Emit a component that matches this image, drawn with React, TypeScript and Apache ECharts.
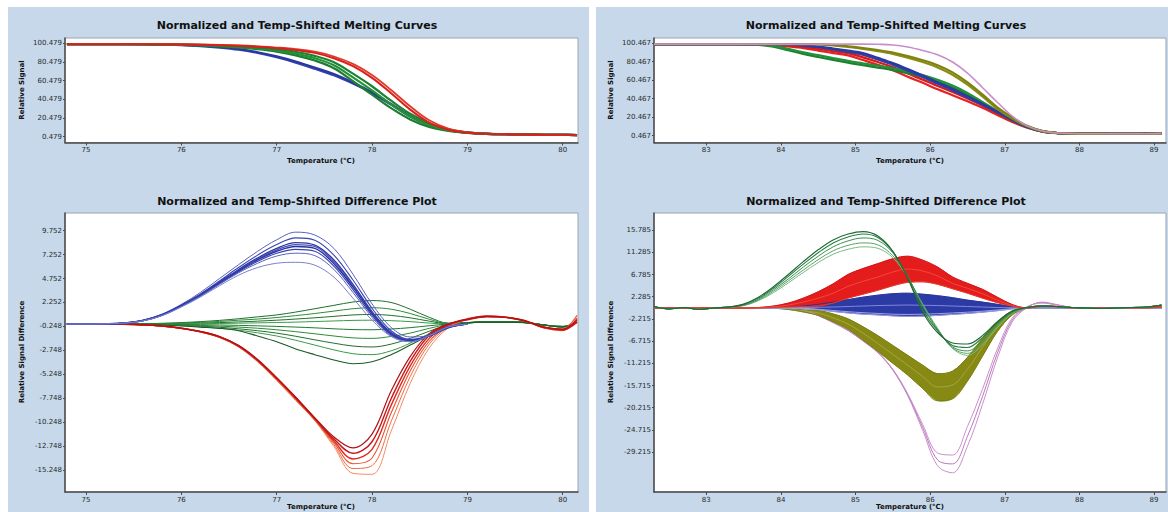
import React, { useEffect, useRef } from "react";
import * as echarts from "echarts";

// ---------- axes / ticks ----------
const leftXTicks = [75, 76, 77, 78, 79, 80];
const rightXTicks = [83, 84, 85, 86, 87, 88, 89];
const tlYTicks = [0.479, 20.479, 40.479, 60.479, 80.479, 100.479];
const trYTicks = [0.467, 20.467, 40.467, 60.467, 80.467, 100.467];
const blYTicks = [-15.248, -12.748, -10.248, -7.748, -5.248, -2.748, -0.248, 2.252, 4.752, 7.252, 9.752];
const brYTicks = [-29.215, -24.715, -20.215, -15.715, -11.215, -6.715, -2.215, 2.285, 6.785, 11.285, 15.785];

// ---------- temperatures ----------
const leftTemps = [74.8, 75.0, 75.2, 75.4, 75.6, 75.8, 76.0, 76.2, 76.4, 76.6, 76.8, 77.0, 77.2, 77.4, 77.6, 77.8, 78.0, 78.2, 78.4, 78.6, 78.8, 79.0, 79.2, 79.4, 79.6, 79.8, 80.0, 80.15];
const rightTemps = [82.3, 82.5, 82.7, 82.9, 83.1, 83.3, 83.5, 83.7, 83.9, 84.1, 84.3, 84.5, 84.7, 84.9, 85.1, 85.3, 85.5, 85.7, 85.9, 86.1, 86.3, 86.5, 86.7, 86.9, 87.1, 87.3, 87.5, 87.7, 87.9, 88.1, 88.3, 88.5, 88.7, 88.9, 89.1];

// ---------- top-left melting curves ----------
const tlRed1 = [99.5, 99.5, 99.5, 99.5, 99.4, 99.3, 99.1, 98.8, 98.4, 97.7, 96.7, 95.2, 93.3, 90.2, 84.5, 76.0, 63.5, 47.0, 29.5, 15.5, 8.0, 4.8, 3.6, 3.1, 2.8, 2.6, 2.5, 2.2];
const tlRed2 = [99.5, 99.5, 99.5, 99.5, 99.5, 99.4, 99.3, 99.0, 98.7, 98.1, 97.2, 95.9, 94.2, 91.4, 86.3, 78.4, 66.5, 50.5, 33.0, 18.0, 9.2, 5.2, 3.7, 3.1, 2.8, 2.6, 2.5, 2.3];
const tlGreen1 = [99.5, 99.5, 99.5, 99.5, 99.5, 99.3, 99.1, 98.7, 98.1, 97.2, 95.9, 94.1, 91.2, 87.0, 80.2, 68.0, 54.5, 39.0, 25.0, 15.0, 8.3, 5.0, 3.7, 3.1, 2.8, 2.6, 2.5, 2.3];
const tlGreen2 = [99.5, 99.5, 99.5, 99.5, 99.4, 99.2, 98.9, 98.4, 97.6, 96.5, 95.0, 92.8, 89.3, 84.5, 77.0, 64.0, 50.0, 35.0, 22.0, 13.0, 7.5, 4.8, 3.6, 3.1, 2.8, 2.6, 2.5, 2.2];
const tlGreen3 = [99.5, 99.5, 99.5, 99.5, 99.4, 99.1, 98.7, 98.1, 97.1, 95.8, 94.1, 91.5, 87.5, 82.0, 73.8, 60.0, 45.5, 31.0, 19.0, 11.0, 6.8, 4.6, 3.6, 3.1, 2.8, 2.6, 2.5, 2.2];
const tlBlue1 = [99.5, 99.5, 99.5, 99.5, 99.4, 99.1, 98.8, 97.9, 96.5, 94.3, 90.9, 86.5, 81.0, 74.5, 67.5, 58.5, 48.0, 35.5, 22.5, 13.0, 7.5, 4.8, 3.6, 3.1, 2.8, 2.6, 2.5, 2.2];
const tlBlue2 = [99.5, 99.5, 99.5, 99.5, 99.3, 99.0, 98.5, 97.5, 95.9, 93.6, 90.1, 85.5, 79.8, 73.2, 66.2, 57.3, 47.0, 34.8, 22.0, 12.8, 7.4, 4.8, 3.6, 3.1, 2.8, 2.6, 2.5, 2.2];

// ---------- bottom-left difference curves ----------
const blB1 = [0, 0, 0.02, 0.12, 0.42, 1.05, 2.05, 3.3, 4.75, 6.2, 7.6, 8.8, 9.6, 9.3, 7.9, 5.2, 2.1, -0.35, -1.35, -1.2, -0.4, 0.0];
const blB2 = [0, 0, 0.02, 0.11, 0.4, 1.0, 1.98, 3.15, 4.5, 5.9, 7.2, 8.3, 9.0, 8.75, 7.2, 4.6, 1.65, -0.7, -1.6, -1.25, -0.4, 0.0];
const blB3 = [0, 0, 0.02, 0.1, 0.38, 0.97, 1.93, 3.05, 4.38, 5.7, 6.9, 7.9, 8.5, 8.25, 6.7, 4.15, 1.3, -0.9, -1.7, -1.25, -0.35, 0.0];
const blB4 = [0, 0, 0.02, 0.1, 0.36, 0.95, 1.9, 3.0, 4.3, 5.55, 6.7, 7.6, 8.1, 7.9, 6.3, 3.85, 1.1, -1.05, -1.75, -1.2, -0.3, 0.0];
const blB5 = [0, 0, 0.02, 0.1, 0.35, 0.93, 1.86, 2.95, 4.22, 5.45, 6.55, 7.4, 7.8, 7.6, 6.05, 3.6, 0.9, -1.15, -1.8, -1.2, -0.3, 0.0];
const blB6 = [0, 0, 0.02, 0.09, 0.34, 0.9, 1.82, 2.9, 4.15, 5.35, 6.35, 7.1, 7.4, 7.15, 5.7, 3.3, 0.7, -1.25, -1.85, -1.25, -0.3, 0.0];
const blB7 = [0, 0, 0.02, 0.09, 0.33, 0.88, 1.78, 2.82, 4.0, 5.1, 5.9, 6.35, 6.45, 6.15, 4.9, 2.7, 0.4, -1.3, -1.85, -1.2, -0.3, 0.0];
const blB8 = [0, 0, 0.02, 0.1, 0.37, 0.96, 1.92, 3.02, 4.34, 5.62, 6.8, 7.75, 8.3, 8.1, 6.5, 4.0, 1.2, -1.0, -1.72, -1.22, -0.32, 0.0];

const blG1 = [0, 0, 0, 0, 0.02, 0.08, 0.15, 0.25, 0.38, 0.55, 0.75, 0.95, 1.25, 1.6, 1.95, 2.3, 2.45, 2.25, 1.55, 0.7, 0.1, 0.15, 0.25, 0.25, 0.2, -0.1, -0.3, 0.2];
const blG2 = [0, 0, 0, 0, 0.01, 0.05, 0.1, 0.18, 0.27, 0.4, 0.52, 0.68, 0.88, 1.1, 1.35, 1.6, 1.7, 1.55, 1.1, 0.5, 0.05, 0.15, 0.25, 0.25, 0.2, -0.1, -0.3, 0.2];
const blG3 = [0, 0, 0, 0, 0.01, 0.03, 0.06, 0.1, 0.15, 0.22, 0.3, 0.4, 0.52, 0.65, 0.8, 0.95, 1.0, 0.9, 0.65, 0.3, 0.02, 0.15, 0.22, 0.22, 0.18, -0.1, -0.3, 0.2];
const blG4 = [0, 0, 0, 0, 0, 0.01, 0.02, 0.04, 0.06, 0.09, 0.12, 0.16, 0.2, 0.26, 0.32, 0.38, 0.4, 0.35, 0.25, 0.1, 0, 0.12, 0.2, 0.2, 0.15, -0.1, -0.25, 0.15];
const blG5 = [0, 0, 0, 0, 0, -0.02, -0.04, -0.07, -0.1, -0.14, -0.19, -0.25, -0.32, -0.4, -0.5, -0.58, -0.6, -0.52, -0.38, -0.18, 0, 0.12, 0.2, 0.2, 0.15, -0.1, -0.25, 0.15];
const blG6 = [0, 0, 0, 0, -0.01, -0.04, -0.08, -0.14, -0.22, -0.32, -0.44, -0.6, -0.8, -1.02, -1.25, -1.45, -1.5, -1.3, -0.95, -0.45, -0.05, 0.12, 0.2, 0.2, 0.15, -0.1, -0.25, 0.2];
const blG7 = [0, 0, 0, 0, -0.02, -0.06, -0.13, -0.22, -0.34, -0.5, -0.7, -0.95, -1.28, -1.65, -2.0, -2.3, -2.4, -2.1, -1.5, -0.75, -0.1, 0.12, 0.2, 0.2, 0.15, -0.1, -0.3, 0.2];
const blG8 = [0, 0, 0, 0, -0.02, -0.08, -0.16, -0.28, -0.44, -0.65, -0.92, -1.25, -1.7, -2.2, -2.7, -3.1, -3.2, -2.8, -2.0, -1.0, -0.15, 0.12, 0.2, 0.2, 0.15, -0.1, -0.3, 0.2];
const blG9 = [0, 0, 0, 0, -0.03, -0.1, -0.2, -0.32, -0.45, -0.7, -1.25, -1.85, -2.6, -3.2, -3.75, -4.15, -3.95, -3.2, -2.2, -1.2, -0.3, 0.12, 0.2, 0.2, 0.15, -0.1, -0.3, 0.2];

const blR1 = [0, 0, 0, -0.02, -0.08, -0.2, -0.42, -0.77, -1.3, -2.22, -3.7, -5.6, -7.65, -9.8, -11.8, -12.95, -11.5, -7.0, -3.4, -1.0, 0.0, 0.5, 0.8, 0.7, 0.35, -0.3, -0.55, 0.4];
const blR2 = [0, 0, 0, -0.02, -0.08, -0.21, -0.44, -0.79, -1.33, -2.27, -3.75, -5.65, -7.7, -9.85, -12.0, -13.5, -12.3, -7.8, -3.9, -1.2, -0.05, 0.45, 0.75, 0.7, 0.3, -0.35, -0.6, 0.2];
const blR3 = [0, 0, 0, -0.02, -0.08, -0.22, -0.45, -0.8, -1.35, -2.3, -3.8, -5.7, -7.75, -9.9, -12.2, -14.1, -13.1, -8.5, -4.4, -1.5, -0.1, 0.55, 0.85, 0.72, 0.38, -0.4, -0.65, 0.6];
const blR4 = [0, 0, 0, -0.02, -0.09, -0.23, -0.46, -0.82, -1.38, -2.34, -3.86, -5.78, -7.85, -10.0, -12.4, -14.6, -14.0, -9.3, -4.9, -1.8, -0.2, 0.5, 0.8, 0.68, 0.32, -0.35, -0.5, 0.9];
const blR5 = [0, 0, 0, -0.02, -0.09, -0.23, -0.47, -0.83, -1.4, -2.37, -3.9, -5.83, -7.92, -10.05, -12.6, -15.1, -14.8, -10.2, -5.5, -2.1, -0.3, 0.45, 0.78, 0.7, 0.36, -0.3, -0.6, 0.3];
const blR6 = [0, 0, 0, -0.02, -0.1, -0.24, -0.48, -0.85, -1.42, -2.4, -3.95, -5.9, -8.0, -10.1, -12.8, -15.6, -15.7, -11.2, -6.2, -2.5, -0.4, 0.5, 0.82, 0.74, 0.34, -0.38, -0.7, 0.5];

// ---------- top-right melting curves ----------
const trPink = [99.4, 99.4, 99.4, 99.4, 99.4, 99.4, 99.4, 99.4, 99.4, 99.4, 99.4, 99.4, 99.4, 99.4, 99.4, 99.2, 98.5, 96.3, 92.5, 87.8, 80.0, 68.0, 52.5, 36.5, 21.5, 11.0, 5.5, 3.3, 2.7, 2.5, 2.5, 2.4, 2.4, 2.5, 2.6];
const trOlive1 = [99.3, 99.3, 99.3, 99.3, 99.3, 99.3, 99.3, 99.3, 99.3, 99.3, 99.3, 99.3, 98.5, 97.0, 95.2, 93.0, 90.3, 86.5, 82.0, 76.5, 68.8, 58.0, 45.0, 31.0, 20.0, 11.0, 5.5, 3.3, 2.7, 2.5, 2.5, 2.4, 2.4, 2.5, 2.8];
const trOlive2 = [99.3, 99.3, 99.3, 99.3, 99.3, 99.3, 99.3, 99.3, 99.3, 99.3, 99.3, 99.0, 98.0, 96.3, 94.3, 91.8, 88.8, 84.8, 80.0, 74.2, 66.3, 55.5, 42.8, 29.5, 19.0, 10.5, 5.3, 3.3, 2.7, 2.5, 2.5, 2.4, 2.4, 2.5, 2.8];
const trGreen1 = [99.3, 99.3, 99.3, 99.3, 99.3, 99.3, 99.2, 99.0, 97.5, 94.2, 90.5, 87.4, 84.3, 81.3, 78.6, 76.0, 73.3, 70.0, 66.0, 60.8, 54.5, 46.5, 36.8, 27.0, 17.5, 9.8, 5.0, 3.2, 2.7, 2.5, 2.5, 2.4, 2.4, 2.5, 2.8];
const trGreen2 = [99.3, 99.3, 99.3, 99.3, 99.3, 99.3, 99.1, 98.6, 96.6, 92.8, 88.8, 85.5, 82.3, 79.3, 76.6, 74.0, 71.3, 68.0, 64.0, 58.8, 52.5, 44.8, 35.5, 26.0, 17.0, 9.5, 5.0, 3.2, 2.7, 2.5, 2.5, 2.4, 2.4, 2.5, 2.8];
const trBlue1 = [99.3, 99.3, 99.3, 99.3, 99.3, 99.3, 99.3, 99.3, 99.3, 99.2, 98.3, 96.8, 94.6, 92.3, 89.8, 84.5, 79.0, 72.5, 65.5, 58.0, 50.8, 43.0, 35.0, 26.5, 17.8, 10.0, 5.2, 3.3, 2.7, 2.5, 2.5, 2.4, 2.4, 2.5, 2.7];
const trBlue2 = [99.3, 99.3, 99.3, 99.3, 99.3, 99.3, 99.3, 99.3, 99.3, 99.0, 97.8, 96.0, 93.6, 91.0, 88.2, 82.8, 77.2, 70.7, 63.8, 56.4, 49.3, 41.6, 33.8, 25.6, 17.2, 9.7, 5.1, 3.3, 2.7, 2.5, 2.5, 2.4, 2.4, 2.5, 2.7];
const trRed1 = [99.3, 99.3, 99.3, 99.3, 99.3, 99.3, 99.3, 99.3, 99.3, 98.5, 97.6, 95.8, 93.8, 91.8, 87.8, 83.0, 77.8, 71.0, 64.5, 57.5, 50.8, 43.5, 35.5, 26.5, 17.6, 10.2, 5.3, 3.3, 2.7, 2.5, 2.5, 2.4, 2.4, 2.5, 2.7];
const trRed2 = [99.3, 99.3, 99.3, 99.3, 99.3, 99.3, 99.3, 99.3, 98.8, 97.8, 96.5, 94.2, 91.8, 89.6, 85.0, 80.0, 74.5, 67.5, 61.0, 54.0, 47.5, 40.5, 33.0, 24.5, 16.3, 9.5, 5.0, 3.2, 2.7, 2.5, 2.5, 2.4, 2.4, 2.5, 2.7];
const trRed3 = [99.3, 99.3, 99.3, 99.3, 99.3, 99.3, 99.3, 99.3, 98.3, 96.8, 95.0, 92.4, 89.6, 87.2, 82.2, 77.0, 71.2, 64.0, 57.5, 50.5, 44.2, 37.5, 30.5, 22.8, 15.2, 9.0, 4.8, 3.1, 2.7, 2.5, 2.5, 2.4, 2.4, 2.5, 2.7];

// ---------- bottom-right difference curves ----------
const brGreen1 = [0.3, -0.2, 0.1, -0.3, 0.0, 0.2, 0.8, 2.2, 4.3, 6.8, 9.4, 11.8, 13.8, 15.0, 15.5, 14.6, 11.5, 6.0, -0.8, -5.0, -7.1, -7.3, -5.6, -2.8, -0.6, 0.1, 0.4, 0.3, 0.1, 0.0, -0.1, 0.0, 0.1, 0.2, 0.6];
const brGreen2 = [0.3, -0.2, 0.1, -0.3, 0.0, 0.2, 0.7, 2.0, 4.0, 6.4, 8.9, 11.2, 13.2, 14.4, 15.0, 14.3, 11.4, 6.2, -0.4, -4.6, -7.6, -8.0, -6.0, -3.0, -0.7, 0.1, 0.4, 0.3, 0.1, 0.0, -0.1, 0.0, 0.1, 0.2, 0.6];
const brGreen3 = [0.3, -0.2, 0.1, -0.3, 0.0, 0.2, 0.6, 1.8, 3.7, 5.9, 8.3, 10.5, 12.4, 13.6, 14.2, 13.7, 11.2, 6.4, 0.4, -4.5, -7.9, -8.7, -6.6, -3.4, -0.9, 0.1, 0.4, 0.3, 0.1, 0.0, -0.1, 0.0, 0.1, 0.2, 0.6];
const brGreen4 = [0.3, -0.2, 0.1, -0.3, 0.0, 0.2, 0.5, 1.6, 3.4, 5.5, 7.7, 9.8, 11.6, 12.7, 13.2, 12.8, 10.6, 6.3, 0.6, -4.3, -8.1, -9.2, -7.1, -3.7, -1.0, 0.1, 0.4, 0.3, 0.1, 0.0, -0.1, 0.0, 0.1, 0.2, 0.6];
const brGreen5 = [0.3, -0.2, 0.1, -0.3, 0.0, 0.2, 0.5, 1.5, 3.1, 5.1, 7.2, 9.2, 10.9, 11.9, 12.4, 12.1, 10.2, 6.2, 0.8, -4.1, -8.2, -9.6, -7.5, -4.0, -1.1, 0.1, 0.4, 0.3, 0.1, 0.0, -0.1, 0.0, 0.1, 0.2, 0.6];

const brRedTop = [0, 0, 0, 0, 0, 0, 0, 0.1, 0.4, 1.0, 2.0, 3.3, 4.9, 6.8, 8.0, 9.0, 10.0, 10.5, 9.7, 8.3, 6.3, 5.0, 3.8, 2.2, 0.7, 0.0, 0.5, 0.3, 0.1, 0, 0, 0, 0.1, 0.1, 0.3];
const brRedMid = [0, 0, 0, 0, 0, 0, 0, 0.05, 0.25, 0.6, 1.2, 2.0, 3.0, 4.4, 5.4, 6.3, 7.3, 7.9, 7.5, 6.5, 5.0, 4.0, 2.9, 1.6, 0.5, 0.0, 0.4, 0.25, 0.05, 0, 0, 0, 0.05, 0.05, 0.25];
const brRedBot = [0, 0, 0, 0, 0, 0, 0, 0, 0.1, 0.2, 0.3, 0.4, 1.0, 2.0, 2.8, 3.6, 4.5, 5.2, 5.3, 4.8, 3.9, 3.0, 2.0, 1.1, 0.35, 0.0, 0.3, 0.2, 0, 0, 0, 0, 0, 0, 0.2];

const brBlueTop = [0, 0, 0, 0, 0, 0, 0, 0, 0, 0.1, 0.4, 0.75, 1.2, 1.7, 2.2, 2.6, 2.9, 3.0, 2.8, 2.5, 2.1, 1.6, 1.2, 0.75, 0.3, 0, 0, 0, 0, 0, 0, 0, 0, 0, 0];
const brBlueMid = [0, 0, 0, 0, 0, 0, 0, 0, 0, 0, 0.1, 0.15, 0.2, 0.3, 0.4, 0.5, 0.55, 0.6, 0.55, 0.5, 0.4, 0.3, 0.2, 0.1, 0.05, 0, 0, 0, 0, 0, 0, 0, 0, 0, 0];
const brBlueLow = [0, 0, 0, 0, 0, 0, 0, 0, 0, 0, -0.05, -0.25, -0.5, -0.75, -0.95, -1.1, -1.25, -1.3, -1.25, -1.15, -1.0, -0.85, -0.65, -0.4, -0.15, 0, 0, 0, 0, 0, 0, 0, 0, 0, 0];
const brBlueBot = [0, 0, 0, 0, 0, 0, 0, 0, 0, 0, -0.1, -0.35, -0.7, -1.0, -1.25, -1.4, -1.6, -1.7, -1.65, -1.5, -1.3, -1.1, -0.85, -0.55, -0.2, 0, 0, 0, 0, 0, 0, 0, 0, 0, 0];

const brOliveTop = [0, 0, 0, 0, 0, 0, 0, 0, 0, -0.15, -0.4, -0.5, -1.2, -2.2, -3.8, -5.6, -7.6, -9.6, -11.6, -13.3, -12.8, -10.0, -6.2, -2.8, -0.6, 0, 0, 0, 0, 0, 0, 0, 0, 0, 0];
const brOliveMid = [0, 0, 0, 0, 0, 0, 0, 0, -0.02, -0.22, -0.6, -1.0, -2.0, -3.25, -5.1, -7.2, -9.4, -11.6, -13.9, -16.0, -15.6, -12.4, -8.0, -3.8, -1.0, 0, 0, 0, 0, 0, 0, 0, 0, 0, 0];
const brOliveBot = [0, 0, 0, 0, 0, 0, 0, 0, -0.05, -0.3, -0.8, -1.5, -2.8, -4.3, -6.5, -8.8, -11.2, -13.6, -16.3, -18.8, -18.4, -14.8, -9.8, -4.8, -1.4, 0, 0, 0, 0, 0, 0, 0, 0, 0, 0];

const brPink1 = [0, 0, 0, 0, 0, 0, 0, 0, 0, 0, -0.4, -1.5, -2.9, -4.5, -6.6, -9.0, -12.4, -17.4, -23.6, -29.4, -29.8, -24.0, -16.5, -8.3, -2.0, 0.3, 1.0, 0.6, 0.1, 0, 0, 0, 0, 0, 0];
const brPink2 = [0, 0, 0, 0, 0, 0, 0, 0, 0, 0, -0.4, -1.5, -2.9, -4.5, -6.6, -9.0, -12.5, -17.6, -24.2, -30.8, -31.6, -26.0, -18.0, -9.2, -2.4, 0.2, 1.1, 0.6, 0.1, 0, 0, 0, 0, 0, 0];
const brPink3 = [0, 0, 0, 0, 0, 0, 0, 0, 0, 0, -0.45, -1.55, -3.0, -4.6, -6.7, -9.1, -12.6, -17.8, -24.8, -32.0, -33.4, -28.0, -19.6, -10.2, -2.8, 0.1, 1.2, 0.7, 0.1, 0, 0, 0, 0, 0, 0];

// ---------- texts ----------
const titleMelt = "Normalized and Temp-Shifted Melting Curves";
const titleDiff = "Normalized and Temp-Shifted Difference Plot";
const nameY1 = "Relative Signal";
const nameY2 = "Relative Signal Difference";
const nameX = "Temperature (°C)";

const PANEL = "#c6d8ea";
const FONT = "DejaVu Sans";

function pairs(temps: number[], vals: number[]) {
  return vals.map((v, i) => [temps[i], v]);
}

function line(ax: number, temps: number[], vals: number[], color: string, width = 1, opacity = 1): any {
  return {
    type: "line",
    xAxisIndex: ax,
    yAxisIndex: ax,
    data: pairs(temps, vals),
    showSymbol: false,
    symbol: "none",
    smooth: 0.35,
    silent: true,
    lineStyle: { color, width, opacity },
  };
}

// filled band between two read curves, drawn as a polygon through the axes' scales
function band(ax: number, temps: number[], top: number[], bot: number[], color: string): any {
  return {
    type: "custom",
    xAxisIndex: ax,
    yAxisIndex: ax,
    silent: true,
    clip: true,
    data: [[temps[0], 0]],
    renderItem: (_params: any, api: any) => {
      let s = 0;
      let e = top.length - 1;
      while (s < e && top[s] === bot[s]) s++;
      while (e > s && top[e] === bot[e]) e--;
      s = Math.max(0, s - 1);
      e = Math.min(top.length - 1, e + 1);
      const pts: number[][] = [];
      for (let i = s; i <= e; i++) pts.push(api.coord([temps[i], top[i]]));
      for (let i = e; i >= s; i--) {
        if ((i === e || i === s) && top[i] === bot[i]) continue;
        pts.push(api.coord([temps[i], bot[i]]));
      }
      return {
        type: "polygon",
        shape: { points: pts, smooth: 0.3 },
        style: { fill: color, stroke: color, lineWidth: 0.5 },
      };
    },
  };
}

function xAxis(gi: number, min: number, max: number, ticks: number[]): any {
  return {
    type: "value",
    gridIndex: gi,
    min,
    max,
    axisLine: { show: true, onZero: false, lineStyle: { color: "#4a4a4a", width: 1.5 } },
    axisTick: { show: true, length: 3, customValues: ticks, lineStyle: { color: "#4a4a4a" } },
    axisLabel: {
      customValues: ticks,
      formatter: (v: number) => String(Math.round(v)),
      fontSize: 7,
      color: "#2a2a2a",
      fontFamily: FONT,
      margin: 4,
    },
    splitLine: { show: false },
  };
}

function yAxis(gi: number, min: number, max: number, ticks: number[]): any {
  return {
    type: "value",
    gridIndex: gi,
    min,
    max,
    axisLine: { show: true, onZero: false, lineStyle: { color: "#4a4a4a", width: 1.5 } },
    axisTick: { show: true, length: 2, customValues: ticks, lineStyle: { color: "#4a4a4a" } },
    axisLabel: {
      customValues: ticks,
      formatter: (v: number) => v.toFixed(3),
      fontSize: 7,
      color: "#2a2a2a",
      fontFamily: FONT,
      margin: 3,
    },
    splitLine: { show: false },
  };
}

function text(str: string, x: number, y: number, font: string, rotate = 0): any {
  return {
    type: "text",
    x,
    y,
    rotation: rotate,
    silent: true,
    style: {
      text: str,
      font,
      fill: "#111",
      align: "center",
      verticalAlign: "middle",
      textAlign: "center",
      textVerticalAlign: "middle",
    },
  };
}

export default function App() {
  const ref = useRef<HTMLDivElement>(null);

  useEffect(() => {
    document.body.style.margin = "0";
    const chart = echarts.init(ref.current!, null, { renderer: "svg" });

    const gridBase = { show: true, backgroundColor: "#ffffff", borderColor: "#9aa4b0", borderWidth: 1 };

    const series: any[] = [
      // top-left
      line(0, leftTemps, tlBlue2, "#3443b0", 2.2),
      line(0, leftTemps, tlBlue1, "#2a379f", 2.2),
      line(0, leftTemps, tlGreen3, "#1d7e2e", 2.2),
      line(0, leftTemps, tlGreen2, "#22923a", 2.2),
      line(0, leftTemps, tlGreen1, "#1d8330", 2.2),
      line(0, leftTemps, tlRed2, "#e23a2a", 1.8),
      line(0, leftTemps, tlRed1, "#d8201c", 2),
      // bottom-left
      line(1, leftTemps, blG1, "#1f6f2c", 1),
      line(1, leftTemps, blG2, "#2d8a3a", 1),
      line(1, leftTemps, blG3, "#1f6f2c", 1),
      line(1, leftTemps, blG4, "#3a9a48", 1),
      line(1, leftTemps, blG5, "#1f7a30", 1),
      line(1, leftTemps, blG6, "#2d8a3a", 1),
      line(1, leftTemps, blG7, "#1f6f2c", 1),
      line(1, leftTemps, blG8, "#3a9a48", 1),
      line(1, leftTemps, blG9, "#1b5a26", 1.1),
      line(1, leftTemps, blR6, "#f58a62", 1),
      line(1, leftTemps, blR5, "#f06a40", 1),
      line(1, leftTemps, blR4, "#e8502e", 1.1),
      line(1, leftTemps, blR3, "#e02a1e", 1.4),
      line(1, leftTemps, blR2, "#c8161a", 1.4),
      line(1, leftTemps, blR1, "#b01216", 1.2),
      line(1, leftTemps, blB1, "#5a62c0", 1),
      line(1, leftTemps, blB2, "#3a44b0", 1.1),
      line(1, leftTemps, blB3, "#2d36a2", 1.4),
      line(1, leftTemps, blB8, "#4a52b8", 1.2),
      line(1, leftTemps, blB4, "#2a33a0", 1.4),
      line(1, leftTemps, blB5, "#3a44b0", 1.2),
      line(1, leftTemps, blB6, "#5a62c0", 1),
      line(1, leftTemps, blB7, "#7a80cc", 1),
      // top-right
      line(2, rightTemps, trRed3, "#e42424", 2.2),
      line(2, rightTemps, trRed2, "#d81a1a", 2.2),
      line(2, rightTemps, trRed1, "#e42424", 2.2),
      line(2, rightTemps, trGreen2, "#1d8030", 2.2),
      line(2, rightTemps, trGreen1, "#23903a", 2.2),
      line(2, rightTemps, trBlue2, "#3040a8", 2.2),
      line(2, rightTemps, trBlue1, "#2a3aa0", 2.2),
      line(2, rightTemps, trOlive2, "#8a8c16", 2.2),
      line(2, rightTemps, trOlive1, "#7e8210", 2.2),
      line(2, rightTemps, trPink, "#c98ccc", 1.6),
      // bottom-right
      line(3, rightTemps, brPink3, "#c890cc", 1),
      line(3, rightTemps, brPink2, "#b878bc", 1),
      line(3, rightTemps, brPink1, "#c890cc", 1),
      band(3, rightTemps, brOliveTop, brOliveBot, "#868a14"),
      line(3, rightTemps, brOliveTop, "#7a7e10", 1),
      line(3, rightTemps, brOliveMid, "#a2a640", 1),
      line(3, rightTemps, brOliveBot, "#7a7e10", 1),
      band(3, rightTemps, brBlueTop, brBlueBot, "#2c3aa5"),
      line(3, rightTemps, brBlueTop, "#26339a", 1),
      line(3, rightTemps, brBlueMid, "#8088d8", 1),
      line(3, rightTemps, brBlueLow, "#a0a4e6", 1),
      line(3, rightTemps, brBlueBot, "#9a9ee0", 1),
      band(3, rightTemps, brRedTop, brRedBot, "#e41c1c"),
      line(3, rightTemps, brRedTop, "#d01414", 1),
      line(3, rightTemps, brRedMid, "#f04a3a", 1),
      line(3, rightTemps, brRedBot, "#e43a2a", 1),
      line(3, rightTemps, brGreen5, "#7ab884", 1),
      line(3, rightTemps, brGreen4, "#5aa466", 1),
      line(3, rightTemps, brGreen3, "#3a8f50", 1),
      line(3, rightTemps, brGreen2, "#2a7e42", 1.1),
      line(3, rightTemps, brGreen1, "#1f6a36", 1.2),
    ];

    const option: any = {
      animation: false,
      backgroundColor: "transparent",
      grid: [
        { ...gridBase, left: 65, top: 38, width: 513, height: 104.5 },
        { ...gridBase, left: 65, top: 213, width: 513, height: 279 },
        { ...gridBase, left: 654, top: 38, width: 512, height: 104.5 },
        { ...gridBase, left: 654, top: 213, width: 512, height: 279 },
      ],
      xAxis: [
        xAxis(0, 74.78, 80.16, leftXTicks),
        xAxis(1, 74.78, 80.16, leftXTicks),
        xAxis(2, 82.3, 89.16, rightXTicks),
        xAxis(3, 82.3, 89.16, rightXTicks),
      ],
      yAxis: [
        yAxis(0, -5.7, 106.1, tlYTicks),
        yAxis(1, -17.55, 11.6, blYTicks),
        yAxis(2, -7, 106, trYTicks),
        yAxis(3, -37.3, 19.26, brYTicks),
      ],
      series,
      graphic: {
        elements: [
          text(titleMelt, 297, 25, `bold 11px "${FONT}"`),
          text(titleDiff, 297, 201, `bold 11px "${FONT}"`),
          text(titleMelt, 886, 25, `bold 11px "${FONT}"`),
          text(titleDiff, 886, 201, `bold 11px "${FONT}"`),
          text(nameY1, 22, 90, `bold 7px "${FONT}"`, Math.PI / 2),
          text(nameY2, 22, 352, `bold 7px "${FONT}"`, Math.PI / 2),
          text(nameY1, 611, 90, `bold 7px "${FONT}"`, Math.PI / 2),
          text(nameY2, 611, 352, `bold 7px "${FONT}"`, Math.PI / 2),
          text(nameX, 321, 161, `bold 7px "${FONT}"`),
          text(nameX, 321, 507, `bold 7px "${FONT}"`),
          text(nameX, 910, 161, `bold 7px "${FONT}"`),
          text(nameX, 910, 507, `bold 7px "${FONT}"`),
        ],
      },
    };

    chart.setOption(option);
    return () => chart.dispose();
  }, []);

  return (
    <div style={{ position: "relative", width: 1168, height: 512, background: "#ffffff", overflow: "hidden" }}>
      <div style={{ position: "absolute", left: 8, top: 7, width: 581, height: 505, background: PANEL }} />
      <div style={{ position: "absolute", left: 596, top: 7, width: 572, height: 505, background: PANEL }} />
      <div ref={ref} style={{ position: "absolute", left: 0, top: 0, width: 1168, height: 512 }} />
    </div>
  );
}
